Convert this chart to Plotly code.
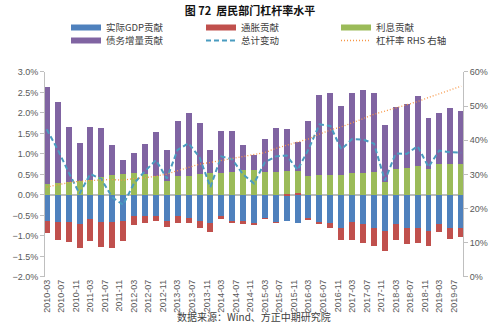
import plotly.graph_objects as go

dates = ["2010-03-01","2010-06-01","2010-09-01","2010-12-01",
         "2011-03-01","2011-06-01","2011-09-01","2011-12-01",
         "2012-03-01","2012-06-01","2012-09-01","2012-12-01",
         "2013-03-01","2013-06-01","2013-09-01","2013-12-01",
         "2014-03-01","2014-06-01","2014-09-01","2014-12-01",
         "2015-03-01","2015-06-01","2015-09-01","2015-12-01",
         "2016-03-01","2016-06-01","2016-09-01","2016-12-01",
         "2017-03-01","2017-06-01","2017-09-01","2017-12-01",
         "2018-03-01","2018-06-01","2018-09-01","2018-12-01",
         "2019-03-01","2019-06-01","2019-09-01"]

gdp = [-0.63,-0.65,-0.66,-0.71,-0.59,-0.65,-0.65,-0.63,-0.50,-0.51,
       -0.51,-0.63,-0.50,-0.55,-0.63,-0.69,-0.51,-0.63,-0.63,-0.69,
       -0.57,-0.67,-0.63,-0.69,-0.58,-0.68,-0.69,-0.79,-0.65,-0.71,
       -0.79,-0.88,-0.71,-0.79,-0.81,-0.88,-0.71,-0.79,-0.81]
inflation = [-0.30,-0.44,-0.49,-0.57,-0.53,-0.62,-0.64,-0.49,-0.23,-0.18,
             -0.12,-0.14,-0.17,-0.14,-0.17,-0.22,-0.08,-0.06,-0.08,-0.02,
             -0.01,-0.01,0.02,0.05,-0.01,-0.02,-0.10,-0.30,-0.45,-0.45,
             -0.45,-0.49,-0.39,-0.39,-0.35,-0.37,-0.19,-0.28,-0.20]
interest = [0.27,0.30,0.33,0.34,0.37,0.45,0.49,0.51,0.53,0.51,
            0.46,0.35,0.47,0.47,0.52,0.53,0.54,0.57,0.61,0.61,
            0.57,0.57,0.57,0.53,0.46,0.48,0.48,0.50,0.53,0.53,
            0.56,0.33,0.63,0.67,0.71,0.64,0.77,0.77,0.77]
debt = [2.36,1.97,1.32,0.93,1.29,1.18,0.72,0.35,0.49,0.74,
        1.08,0.76,1.33,1.52,1.23,0.56,1.01,1.00,0.62,0.37,
        0.80,1.06,1.01,0.72,1.35,1.95,2.00,1.67,1.95,2.02,
        1.92,1.37,1.51,1.56,1.70,1.24,1.24,1.36,1.29]
total = [1.60,1.11,0.55,0.03,0.51,0.39,-0.06,-0.24,0.28,0.58,
         0.85,0.40,1.10,1.26,0.92,0.19,0.94,0.87,0.50,0.28,
         0.79,0.94,0.96,0.61,1.11,1.72,1.68,1.11,1.36,1.35,
         1.25,0.35,1.01,1.00,1.19,0.68,1.08,1.04,1.03]
leverage = [26.3,27.0,27.6,28.0,28.3,28.4,28.5,28.3,28.8,29.0,
            29.5,30.1,31.1,32.0,33.0,33.5,34.1,34.8,35.4,35.8,
            36.4,37.6,38.6,39.4,40.4,41.8,43.0,43.9,45.2,46.3,
            47.6,48.5,49.5,50.3,51.3,52.5,53.7,54.7,55.8]

names = ["实际GDP贡献", "通胀贡献", "利息贡献", "债务增量贡献", "总计变动", "杠杆率 RHS 右轴"]
colors = ["#4f81bd", "#c0504d", "#9bbb59", "#8064a2", "#4a9cc0", "#f79646"]

BAR_W = 50 * 24 * 3600 * 1000
fig = go.Figure()
for vals, nm, col in [(gdp, names[0], colors[0]), (inflation, names[1], colors[1]),
                      (interest, names[2], colors[2]), (debt, names[3], colors[3])]:
    fig.add_trace(go.Bar(x=dates, y=vals, name=nm, marker_color=col,
                         marker_line_width=0, width=BAR_W, showlegend=False))

fig.add_trace(go.Scatter(x=dates, y=total, name=names[4], mode="lines",
                         line=dict(color=colors[4], width=2, dash="5px,3px"),
                         showlegend=False))
fig.add_trace(go.Scatter(x=dates, y=leverage, name=names[5], mode="lines", yaxis="y2",
                         line=dict(color=colors[5], width=1.3, dash="1px,2px"),
                         showlegend=False))

# legend entries
legend_rows = [("legend", [(names[0], colors[0], 6, "solid"), (names[1], colors[1], 6, "solid"),
                           (names[2], colors[2], 6, "solid")]),
               ("legend2", [(names[3], colors[3], 6, "solid"), (names[4], colors[4], 2, "5px,3px"),
                            (names[5], colors[5], 1.3, "1px,2px")])]
for lg, items in legend_rows:
    for nm, col, w, d in items:
        fig.add_trace(go.Scatter(x=[None], y=[None], mode="lines", name=nm, legend=lg,
                                 line=dict(color=col, width=w, dash=d)))

tickfont = dict(family="Liberation Sans, Arial", size=9, color="#595959")
legfont = dict(family="Noto Sans CJK SC", size=9.5, color="#404040")
leg_common = dict(orientation="h", xref="container", yref="container",
                  xanchor="left", yanchor="top", entrywidth=90, entrywidthmode="pixels",
                  bgcolor="rgba(0,0,0,0)", font=legfont, itemwidth=30)

fig.update_layout(
    width=500, height=335,
    margin=dict(l=44, r=35, t=25, b=58),
    paper_bgcolor="white", plot_bgcolor="white",
    barmode="relative", bargap=0,
    title=dict(text="<b>图 72  居民部门杠杆率水平</b>", x=0.5, xanchor="center",
               y=1 - 11.5 / 335, yanchor="middle", yref="container",
               font=dict(family="Noto Sans CJK SC", size=11, color="#111")),
    xaxis=dict(type="date", range=["2010-02-15", "2019-09-16"],
               tick0="2010-03-01", dtick="M4", tickformat="%Y-%m", tickangle=-90,
               ticks="", showgrid=False, showline=False, zeroline=False,
               tickfont=tickfont),
    yaxis=dict(range=[-2, 3], dtick=0.5, tickformat=".1f", ticksuffix="%",
               showgrid=False, showline=True, linecolor="#bfbfbf", linewidth=1,
               ticks="outside", ticklen=4, tickcolor="#bfbfbf",
               zeroline=True, zerolinecolor="#bfbfbf", zerolinewidth=1.5,
               layer="above traces", tickfont=tickfont),
    yaxis2=dict(range=[0, 60], dtick=10, ticksuffix="%", overlaying="y", side="right",
                showgrid=False, showline=True, linecolor="#bfbfbf", linewidth=1,
                ticks="outside", ticklen=4, tickcolor="#bfbfbf", zeroline=False,
                tickfont=tickfont),
    legend=dict(x=66 / 500, y=1 - 13 / 335, **leg_common),
    legend2=dict(x=66 / 500, y=1 - 26 / 335, **leg_common),
    annotations=[dict(text="数据来源：Wind、方正中期研究院", xref="paper", yref="paper",
                      x=0.5, y=(277 - 326) / 252, xanchor="center", yanchor="middle",
                      showarrow=False,
                      font=dict(family="Noto Sans CJK SC", size=10, color="#404040"))],
)

fig.write_html("out.html")
